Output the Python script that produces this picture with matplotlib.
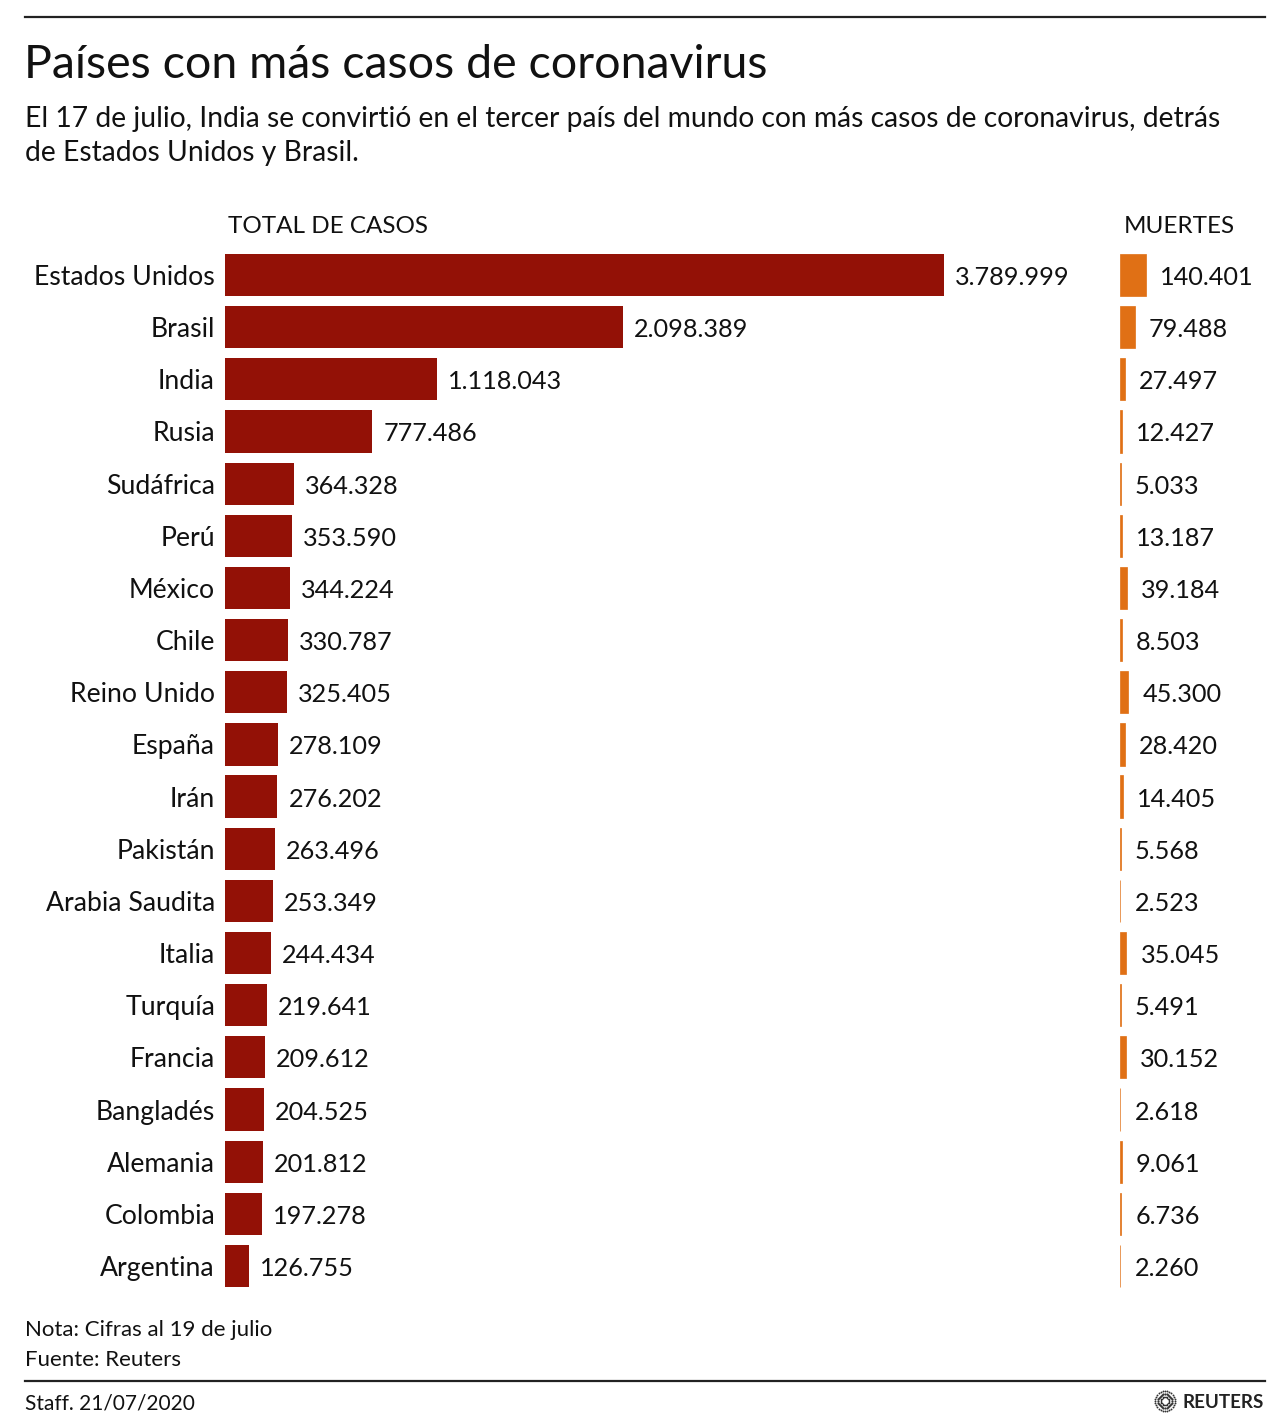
import matplotlib
matplotlib.use("Agg")
import matplotlib.pyplot as plt
import numpy as np

plt.rcParams['font.family'] = ['Lato', 'DejaVu Sans']

countries = ["Estados Unidos", "Brasil", "India", "Rusia", "Sudáfrica", "Perú", "México",
             "Chile", "Reino Unido", "España", "Irán", "Pakistán", "Arabia Saudita", "Italia",
             "Turquía", "Francia", "Bangladés", "Alemania", "Colombia", "Argentina"]
cases = [3789999, 2098389, 1118043, 777486, 364328, 353590, 344224, 330787, 325405, 278109,
         276202, 263496, 253349, 244434, 219641, 209612, 204525, 201812, 197278, 126755]
deaths = [140401, 79488, 27497, 12427, 5033, 13187, 39184, 8503, 45300, 28420,
          14405, 5568, 2523, 35045, 5491, 30152, 2618, 9061, 6736, 2260]

def fmt(v):
    return f"{v:,}".replace(",", ".")

W, H = 1288, 1424
fig = plt.figure(figsize=(W / 100, H / 100), dpi=100)

def fx(x):
    return x / W

def fy(y):
    return 1 - y / H

RED = "#931106"
ORANGE = "#E07015"
TXT = "#111111"
FS_NAME = 19.2
FS_NUM = 18.2

n = len(countries)
row = (1266 - 275) / (n - 1)
top = 275 - row / 2
bot = 1266 + row / 2

# Cases axes
ax_l, ax_r = 225, 1100
ax = fig.add_axes([fx(ax_l), fy(bot), (ax_r - ax_l) / W, (bot - top) / H])
xmax = cases[0] * (ax_r - ax_l) / (944 - 225)
y = np.arange(n)
ax.barh(y, cases, height=0.81, color=RED, left=0)
ax.set_xlim(0, xmax)
ax.set_ylim(n - 0.5, -0.5)
ax.axis("off")
for i, (c, v) in enumerate(zip(countries, cases)):
    ax.annotate(fmt(v), (v, i), xytext=(11, -10), textcoords="offset pixels",
                ha="left", va="baseline", fontsize=FS_NUM, color=TXT)
    ax.annotate(c, (0, i), xytext=(-10, -10), textcoords="offset pixels",
                ha="right", va="baseline", fontsize=FS_NAME, color=TXT)

# Deaths axes
d_l, d_r = 1120, 1270
ax2 = fig.add_axes([fx(d_l), fy(bot), (d_r - d_l) / W, (bot - top) / H])
dmax = deaths[0] * (d_r - d_l) / (1146 - 1120)
ax2.barh(y, deaths, height=0.81, color=ORANGE, edgecolor=ORANGE, linewidth=0.5)
ax2.set_xlim(0, dmax)
ax2.set_ylim(n - 0.5, -0.5)
ax2.axis("off")
for i, v in enumerate(deaths):
    ax2.annotate(fmt(v), (v, i), xytext=(14, -10), textcoords="offset pixels",
                 ha="left", va="baseline", fontsize=FS_NUM, color=TXT)

# Headers
fig.text(fx(228), fy(233), "TOTAL DE CASOS", fontsize=17.5, ha="left", va="baseline", color=TXT)
fig.text(fx(1124), fy(233), "MUERTES", fontsize=17.5, ha="left", va="baseline", color=TXT)

# Title and subtitle
fig.text(fx(24), fy(78), "Países con más casos de coronavirus", fontsize=33.5, ha="left",
         va="baseline", color=TXT)
fig.text(fx(25), fy(127), "El 17 de julio, India se convirtió en el tercer país del mundo con más casos de coronavirus, detrás",
         fontsize=20.3, ha="left", va="baseline", color=TXT)
fig.text(fx(25), fy(161), "de Estados Unidos y Brasil.",
         fontsize=20.3, ha="left", va="baseline", color=TXT)

# Rules
fig.add_artist(plt.Line2D([fx(25), fx(1265)], [fy(17), fy(17)], color="#222222", lw=1.6))
fig.add_artist(plt.Line2D([fx(25), fx(1265)], [fy(1381), fy(1381)], color="#222222", lw=1.6))

# Footer
fig.text(fx(25), fy(1336), "Nota: Cifras al 19 de julio", fontsize=16, ha="left", va="baseline", color=TXT)
fig.text(fx(25), fy(1366), "Fuente: Reuters", fontsize=16, ha="left", va="baseline", color=TXT)
fig.text(fx(25), fy(1409), "Staff. 21/07/2020", fontsize=15, ha="left", va="baseline", color=TXT)

# Reuters logo
cx, cy = 1165, 1401
angles = np.linspace(0, 2 * np.pi, 28, endpoint=False)
for r, s in [(4, 2.5), (7, 3.5), (10, 3)]:
    xs = cx + r * np.cos(angles)
    ys = cy + r * np.sin(angles)
    fig.add_artist(plt.Line2D([fx(v) for v in xs], [fy(v) for v in ys], ls="none",
                              marker="o", ms=s / 2.2, color="#333333", mew=0))
fig.text(fx(1183), fy(1402), "REUTERS", fontsize=13.5, fontweight="bold", ha="left", va="center",
         color="#222222")

fig.savefig("out.png", dpi=100, facecolor="white")
